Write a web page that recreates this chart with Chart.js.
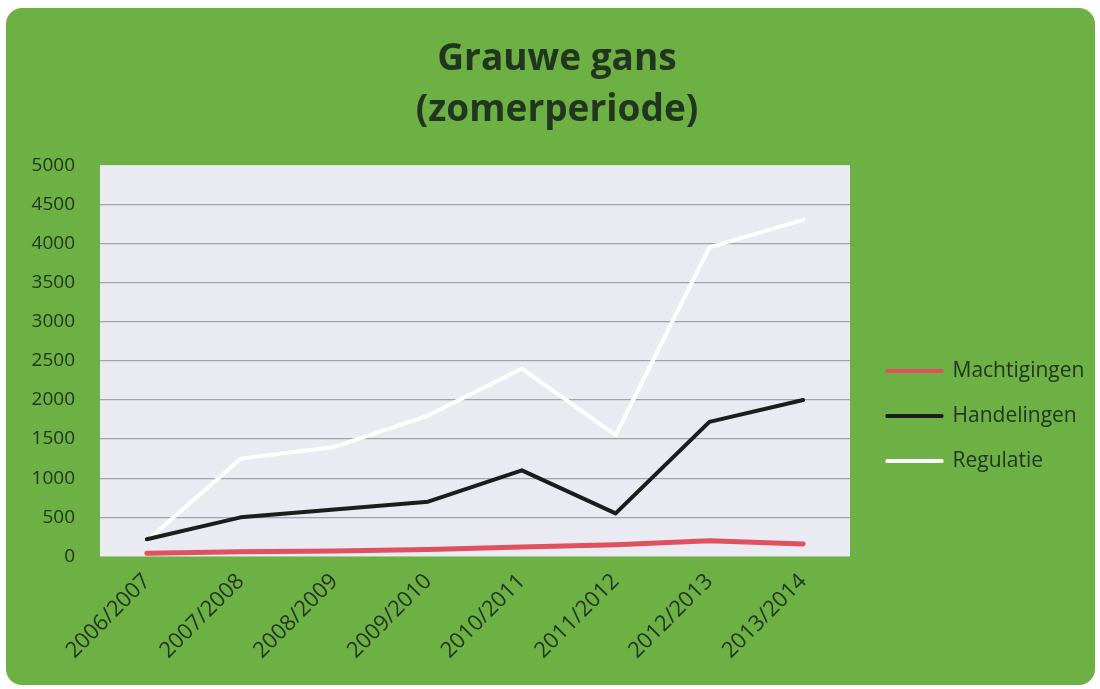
<!DOCTYPE html>
<html lang="nl">
<head>
<meta charset="UTF-8">
<title>Grauwe gans (zomerperiode)</title>
<script src="https://cdn.jsdelivr.net/npm/chart.js@4"></script>
<style>
  html, body { margin: 0; padding: 0; background: #ffffff; }
  #wrap { width: 1100px; height: 689px; }
</style>
</head>
<body>
<div id="wrap"><canvas id="chart" width="1100" height="689"></canvas></div>
<script>
// data
const seasons = ['2006/2007', '2007/2008', '2008/2009', '2009/2010', '2010/2011', '2011/2012', '2012/2013', '2013/2014'];
const machtigingen = [40, 60, 70, 90, 120, 150, 200, 160];
const handelingen = [220, 500, 600, 700, 1100, 550, 1720, 2000];
const regulatie = [200, 1250, 1400, 1800, 2400, 1550, 3950, 4300];
const yTicks = [0, 500, 1000, 1500, 2000, 2500, 3000, 3500, 4000, 4500, 5000];

const GREEN = '#6db043';
const PLOT_BG = '#eaeaf2';
const TEXT = '#22361f';
const LEGEND_WIDTH = 229;

// green rounded card behind everything + light plot area
const background = {
  id: 'background',
  beforeDraw(chart) {
    const ctx = chart.ctx;
    ctx.save();
    ctx.fillStyle = GREEN;
    ctx.beginPath();
    ctx.roundRect(6, 8, 1089, 677, 16);
    ctx.fill();
    const a = chart.chartArea;
    ctx.fillStyle = PLOT_BG;
    ctx.fillRect(a.left, a.top, a.right - a.left, a.bottom - a.top);
    ctx.restore();
  }
};

// the layout caps side boxes at a small width, so force the legend width
const legendWidth = {
  id: 'legendWidth',
  beforeLayout(chart) {
    const legend = chart.legend;
    if (legend && !legend._fitPatched) {
      const fit = legend.fit;
      legend.fit = function () { fit.call(this); this.width = LEGEND_WIDTH; };
      legend._fitPatched = true;
    }
  }
};

new Chart(document.getElementById('chart'), {
  type: 'line',
  data: {
    labels: seasons,
    datasets: [
      { label: 'Machtigingen', data: machtigingen, borderColor: '#e0505e', backgroundColor: '#e0505e', borderWidth: 5 },
      { label: 'Handelingen', data: handelingen, borderColor: '#1c1c1c', backgroundColor: '#1c1c1c', borderWidth: 4 },
      { label: 'Regulatie', data: regulatie, borderColor: '#ffffff', backgroundColor: '#ffffff', borderWidth: 4 }
    ]
  },
  options: {
    responsive: false,
    animation: false,
    layout: { padding: { left: 22, right: 8, top: 0, bottom: 21 } },
    elements: { point: { radius: 0 }, line: { tension: 0, borderJoinStyle: 'round', borderCapStyle: 'round' } },
    plugins: {
      title: {
        display: true,
        text: ['Grauwe gans', '(zomerperiode)'],
        color: TEXT,
        font: { family: 'Open Sans', size: 37, weight: 'bold', lineHeight: 1.38 },
        padding: { top: 34, bottom: 29 }
      },
      legend: {
        position: 'right',
        title: { display: true, text: '', font: { size: 10 }, padding: { top: 152, bottom: 0 } },
        labels: {
          color: TEXT,
          font: { family: 'Open Sans', size: 21 },
          boxWidth: 55,
          boxHeight: 1,
          padding: 24,
          generateLabels: chart => Chart.defaults.plugins.legend.labels.generateLabels(chart).map(l => ({ ...l, lineWidth: 3 }))
        }
      },
      tooltip: { enabled: false }
    },
    scales: {
      x: {
        offset: true,
        grid: { display: false },
        border: { display: false },
        ticks: { color: TEXT, font: { family: 'Open Sans', size: 22 }, minRotation: 45, maxRotation: 45, padding: 4 }
      },
      y: {
        min: 0,
        max: 5000,
        afterBuildTicks(axis) { axis.ticks = yTicks.map(v => ({ value: v })); },
        afterFit(axis) { axis.width = 78; },
        grid: {
          color: c => (c.tick && (c.tick.value === 0 || c.tick.value === 5000)) ? 'rgba(0,0,0,0)' : '#a3a3ab',
          lineWidth: 1.3,
          drawTicks: false
        },
        border: { display: false },
        ticks: { color: TEXT, font: { family: 'Open Sans', size: 19 }, padding: 25, callback: v => String(v) }
      },
      // empty spacer between the plot and the legend
      gap: {
        type: 'linear',
        position: 'right',
        display: true,
        grid: { display: false },
        border: { display: false },
        ticks: { display: false },
        afterFit(axis) { axis.width = 13; }
      }
    }
  },
  plugins: [background, legendWidth]
});
</script>
</body>
</html>
